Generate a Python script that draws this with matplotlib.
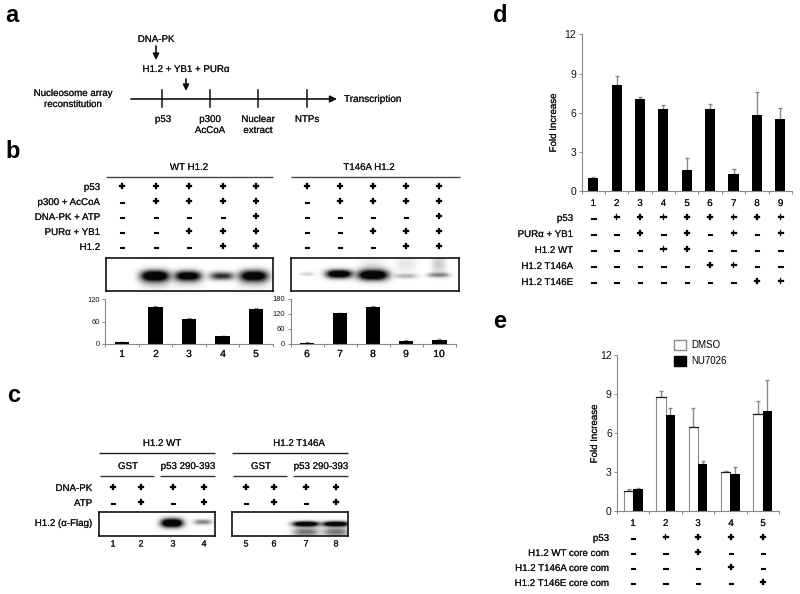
import numpy as np
import matplotlib
matplotlib.use("Agg")
import matplotlib.pyplot as plt
from matplotlib.patches import Patch
import matplotlib.patheffects as pe

plt.rcParams['font.family'] = ['Liberation Sans', 'DejaVu Sans']

W, H = 800, 594

# ---- data ----
b_left_vals = [5, 100, 67, 21, 94]
b_left_err = [1, 0.5, 1.5, 1.5, 2.5]
b_right_vals = [5, 122, 148, 12, 15]
b_right_err = [1, 2, 2, 2, 6]
b_rows = ["p53", "p300 + AcCoA", "DNA-PK + ATP", "PURα + YB1", "H1.2"]
b_signs = ["+++++", "-++++", "----+", "--+++", "---++"]
d_vals = [1.05, 8.1, 7.05, 6.3, 1.65, 6.3, 1.35, 5.85, 5.55]
d_err = [0.08, 0.7, 0.15, 0.3, 0.9, 0.35, 0.35, 1.75, 0.85]
d_rows = ["p53", "PURα + YB1", "H1.2 WT", "H1.2 T146A", "H1.2 T146E"]
d_signs = ["-++++++++", "--+-+-+-+", "---++----", "-----++--", "-------++"]
e_dmso = [1.55, 8.75, 6.45, 3.0, 7.5]
e_dmso_err = [0.15, 0.45, 1.45, 0.07, 1.0]
e_nu = [1.7, 7.4, 3.65, 2.85, 7.7]
e_nu_err = [0.07, 0.5, 0.2, 0.5, 2.4]
e_rows = ["p53", "H1.2 WT core com", "H1.2 T146A core com", "H1.2 T146E core com"]
e_signs = ["-++++", "--+--", "---+-", "----+"]
c_signs = ["++++", "-+-+"]
# gel bands: lane x px, y px, strength, half length, half height
gel_b1 = [(155, 276, 1.5, 14, 5.5), (188, 276, 1.3, 13, 5), (222, 276, 0.85, 12, 4), (254, 276, 1.35, 14, 5.5),
          (155, 282, 0.2, 14, 7), (188, 280, 0.15, 14, 7), (254, 280, 0.2, 14, 8)]
gel_b2 = [(307, 274, 0.18, 7, 1.8), (339, 274, 1.4, 13, 4.2), (373, 275, 1.5, 15, 5.2),
          (406, 276, 0.3, 11, 2.4), (439, 275, 0.5, 11, 2.4),
          (406, 264, 0.1, 10, 8), (439, 264, 0.2, 7, 9), (373, 268, 0.12, 12, 9)]
gel_c1 = [(172, 523, 1.5, 11, 4.5), (203, 522, 0.5, 9, 2.6)]
gel_c2 = [(306, 524, 1.5, 13, 2.6), (336, 524, 1.5, 13, 2.6),
          (306, 532, 0.55, 13, 4.5), (336, 532, 0.55, 13, 4.5)]

fig = plt.figure(figsize=(W / 100, H / 100), dpi=100, facecolor='white')

def pax(x0, y0, x1, y1):
    return fig.add_axes([x0 / W, 1 - y1 / H, (x1 - x0) / W, (y1 - y0) / H])

ov = pax(0, 0, W, H)
ov.set_xlim(0, W)
ov.set_ylim(H, 0)
ov.axis('off')
ov.set_zorder(5)
ov.patch.set_alpha(0)

FS = 7.0
def T(x, y, s, ha='center', fs=FS, stroke=0.1, **k):
    k.setdefault('color', '#111111')
    t = ov.text(x, y, s, ha=ha, va='center', fontsize=fs, **k)
    t.set_path_effects([pe.withStroke(linewidth=stroke, foreground=k['color'])])

def L(x0, x1, y, c='#222222', lw=1.0):
    ov.plot([x0, x1], [y, y], color=c, lw=lw, solid_capstyle='butt')

def signs(cols, y, s):
    for x, ch in zip(cols, s):
        if ch == '+':
            T(x, y, '+', fs=9.0, stroke=0.2, fontweight='bold', color='black')
        else:
            T(x, y, '–', fs=7.0, stroke=0.8, fontweight='bold', color='black')

def table(cols, ys, labels, rows, xr):
    for y, lab, r in zip(ys, labels, rows):
        T(xr, y, lab, ha='right')
        signs(cols, y, r)

def gel(rect, bands):
    x0, y0, x1, y1 = rect
    a = pax(x0, y0, x1, y1)
    xs, ys = np.meshgrid(np.linspace(x0, x1, 340), np.linspace(y0, y1, 120))
    light = np.ones_like(xs)
    for bx, by, s, wx, wy in bands:
        light *= 1 - np.minimum(0.97, s * np.exp(-np.abs((xs - bx) / wx) ** 3 - ((ys - by) / wy) ** 2))
    a.imshow(light, cmap='gray', vmin=0, vmax=1, extent=[x0, x1, y1, y0], aspect='auto', interpolation='bilinear')
    a.set_xticks([])
    a.set_yticks([])
    for sp in a.spines.values():
        sp.set_linewidth(1.2)
        sp.set_color('#111111')

def barax(rect, ymax, ticks, n, fs):
    a = pax(*rect)
    a.set_xlim(0, n)
    a.set_ylim(0, ymax)
    a.set_yticks(ticks)
    a.set_xticks(range(n + 1))
    a.set_xticklabels([])
    a.tick_params(axis='both', length=2.2, width=0.7, color='#888888', labelsize=fs, pad=1.5, labelcolor='#111111')
    for s in ('top', 'right'):
        a.spines[s].set_visible(False)
    for s in ('left', 'bottom'):
        a.spines[s].set_color('#888888')
        a.spines[s].set_linewidth(0.8)
    return a

def bars(a, x, v, e, w, **k):
    a.errorbar(x, v, yerr=[[0] * len(v), e], fmt='none', ecolor='#8a8a8a', elinewidth=1.0,
               capsize=1.2, capthick=1.0, zorder=1)
    a.bar(x, v, w, zorder=2, **k)

# panel letters
for x, y, s in [(12, 15, 'a'), (13, 152, 'b'), (14, 395, 'c'), (500, 15, 'd'), (500, 322, 'e')]:
    ov.text(x, y, s, ha='center', va='center', fontsize=17, fontweight='bold', color='black')

# ---- panel a ----
ov.annotate('', xy=(337, 99), xytext=(131, 99),
            arrowprops=dict(arrowstyle='-|>', color='#111111', lw=1.2, mutation_scale=10, shrinkA=0, shrinkB=0))
for x in [162, 210, 258, 307]:
    ov.plot([x, x], [90, 107], color='#111111', lw=1.1)
for x0, y0, y1 in [(156, 46, 60), (186, 79, 91)]:
    ov.annotate('', xy=(x0, y1), xytext=(x0, y0),
                arrowprops=dict(arrowstyle='-|>', color='#111111', lw=1.2, mutation_scale=9, shrinkA=0, shrinkB=0))
T(156, 39, 'DNA-PK')
T(186, 69, 'H1.2 + YB1 + PURα')
T(73, 93, 'Nucleosome array')
T(73, 104, 'reconstitution')
T(344, 99, 'Transcription', ha='left', fs=7.2)
T(163, 119, 'p53')
T(210, 119, 'p300')
T(210, 130, 'AcCoA')
T(258, 119, 'Nuclear')
T(258, 130, 'extract')
T(307, 119, 'NTPs')

# ---- panel b ----
T(189, 167, 'WT H1.2')
T(369, 167, 'T146A H1.2')
L(106, 273, 177, c='#444444')
L(291, 460, 177, c='#444444')
bl_cols = [122, 156, 189, 223, 256]
br_cols = [307, 340, 373, 406, 439]
b_ys = [187, 202, 217, 232, 247]
table(bl_cols, b_ys, b_rows, b_signs, 100)
for y, r in zip(b_ys, b_signs):
    signs(br_cols, y, r)
gel((106, 258, 273, 291), gel_b1)
gel((291, 258, 459, 291), gel_b2)
a = barax((105, 299, 273, 344), 120, [0, 60, 120], 5, 5.4)
bars(a, np.arange(5) + 0.5, b_left_vals, b_left_err, 0.43, color='black')
a = barax((290.5, 298.5, 456, 344), 180, [0, 60, 120, 180], 5, 5.4)
bars(a, np.arange(5) + 0.5, b_right_vals, b_right_err, 0.43, color='black')
for x, n in zip(bl_cols + br_cols, range(1, 11)):
    T(x, 354, str(n), fs=7.4)

# ---- panel c ----
T(162, 443, 'H1.2 WT')
T(299, 443, 'H1.2 T146A')
L(99, 215, 453)
L(232, 348, 453)
for cx, x0, x1, s in [(128, 100, 154, 'GST'), (188, 160, 215, 'p53 290-393'),
                      (261, 233, 287, 'GST'), (321, 293, 348, 'p53 290-393')]:
    T(cx, 466, s)
    L(x0, x1, 476, c='#333333')
c_cols = [113, 141, 173, 204, 246, 274, 306, 336]
table(c_cols, [488, 503], ['DNA-PK', 'ATP'], [c * 2 for c in c_signs], 92)
T(92, 523, 'H1.2 (α-Flag)', ha='right')
gel((99, 512, 215, 536), gel_c1)
gel((232, 512, 348, 536), gel_c2)
for x, n in zip(c_cols, range(1, 9)):
    T(x, 544, str(n), fs=6.5)

# ---- panel d ----
a = barax((581.5, 34.3, 792, 191.3), 12, [0, 3, 6, 9, 12], 9, 7.5)
bars(a, np.arange(9) + 0.5, d_vals, d_err, 0.43, color='black')
T(553, 123, 'Fold Increase', rotation=90)
d_cols = [593.3, 616.7, 640, 663.5, 687, 710, 733.7, 757, 780.7]
for x, n in zip(d_cols, range(1, 10)):
    T(x, 203, str(n))
table(d_cols, [218, 234, 250, 266, 282], d_rows, d_signs, 573)

# ---- panel e ----
a = barax((617, 355, 779, 511), 12, [0, 3, 6, 9, 12], 5, 7.5)
xe = np.arange(5) + 0.5
bars(a, xe - 0.145, e_dmso, e_dmso_err, 0.29, color='white', edgecolor='#8a8a8a', linewidth=0.8)
bars(a, xe + 0.145, e_nu, e_nu_err, 0.29, color='black')
for x, v in zip(xe - 0.145, e_dmso):
    a.plot([x - 0.145, x + 0.145], [v, v], color='#222222', lw=0.9, zorder=3)
a.legend(handles=[Patch(facecolor='white', edgecolor='#8a8a8a', label='DMSO'),
                  Patch(facecolor='black', edgecolor='black', label='NU7026')],
         loc='center left', bbox_to_anchor=(673.5 / W, 1 - 353 / H), bbox_transform=fig.transFigure,
         frameon=False, fontsize=7.0, handlelength=1.25, handleheight=1.25, handletextpad=0.6,
         labelspacing=0.55, borderpad=0, borderaxespad=0)
T(594, 434, 'Fold Increase', rotation=90)
e_cols = [633, 665.7, 698, 731, 763]
for x, n in zip(e_cols, range(1, 6)):
    T(x, 523, str(n))
table(e_cols, [538, 553, 568, 583], e_rows, e_signs, 609)

fig.savefig('out.png', dpi=100, facecolor='white')
